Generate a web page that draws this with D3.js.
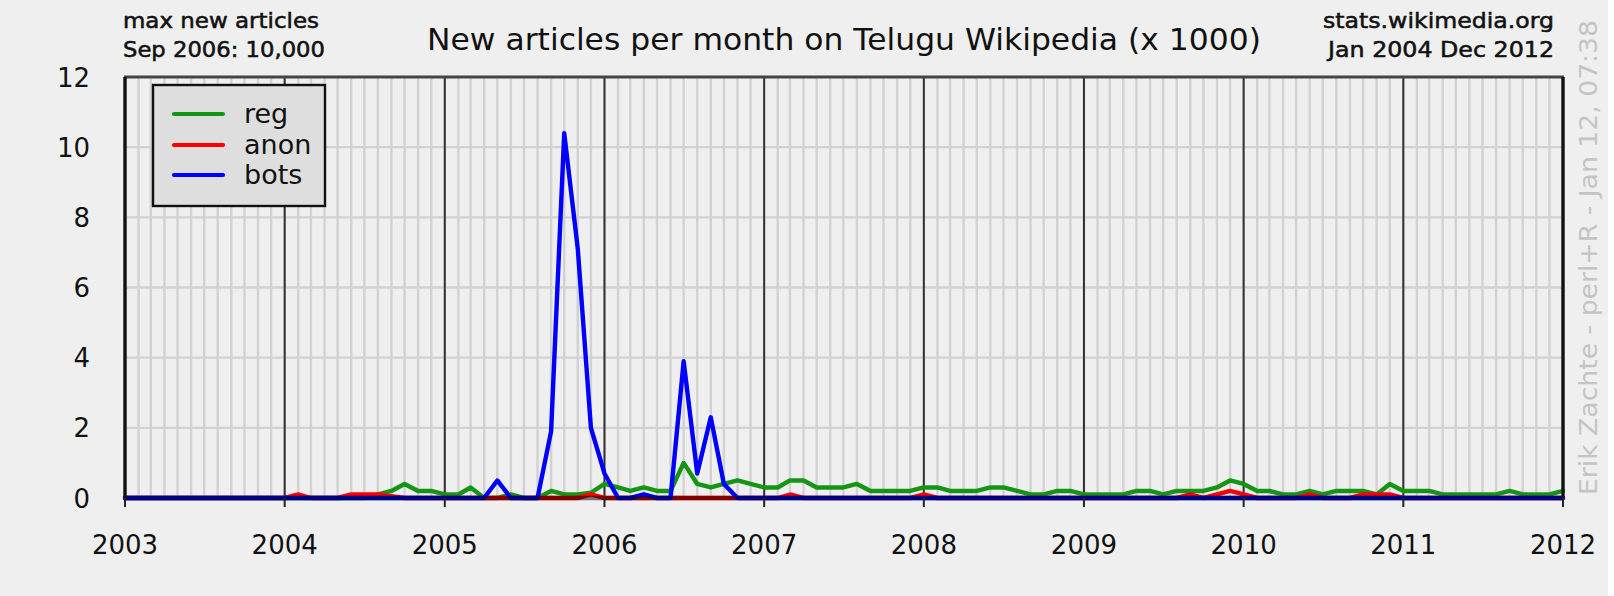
<!DOCTYPE html>
<html><head><meta charset="utf-8">
<script src="https://cdn.jsdelivr.net/npm/d3@7/dist/d3.min.js"></script>
<style>html,body{margin:0;padding:0;background:#fff;}svg{display:block;font-family:"DejaVu Sans",sans-serif;}</style>
</head><body><svg id="c" width="1614" height="596"></svg>
<script>
// ---- data (thousands of new articles per month, Jan 2003 .. Jan 2012) ----
const yearTicks = [2003, 2004, 2005, 2006, 2007, 2008, 2009, 2010, 2011, 2012];
const yTicks = [0, 2, 4, 6, 8, 10, 12];
const seriesNames = ["reg", "anon", "bots"];
const seriesColors = ["#149614", "#ff0000", "#0000ff"];
const reg = [
  0,0,0,0,0,0,0,0,0,0,0,0,                          // 2003
  0,0,0,0,0,0,0,0.1,0.2,0.4,0.2,0.2,                // 2004
  0.1,0.1,0.3,0,0,0.1,0,0,0.2,0.1,0.1,0.15,         // 2005
  0.4,0.3,0.2,0.3,0.2,0.2,1.0,0.4,0.3,0.4,0.5,0.4,  // 2006
  0.3,0.3,0.5,0.5,0.3,0.3,0.3,0.4,0.2,0.2,0.2,0.2,  // 2007
  0.3,0.3,0.2,0.2,0.2,0.3,0.3,0.2,0.1,0.1,0.2,0.2,  // 2008
  0.1,0.1,0.1,0.1,0.2,0.2,0.1,0.2,0.2,0.2,0.3,0.5,  // 2009
  0.4,0.2,0.2,0.1,0.1,0.2,0.1,0.2,0.2,0.2,0.1,0.4,  // 2010
  0.2,0.2,0.2,0.1,0.1,0.1,0.1,0.1,0.2,0.1,0.1,0.1,  // 2011
  0.2                                               // 2012
];
const anon = [
  0,0,0,0,0,0,0,0,0,0,0,0,
  0,0.1,0,0,0,0.1,0.1,0.1,0.05,0,0,0,
  0,0,0,0,0,0,0,0,0,0,0,0.1,
  0,0,0,0,0,0,0,0,0,0,0,0,
  0,0,0.1,0,0,0,0,0,0,0,0,0,
  0.1,0,0,0,0,0,0,0,0,0,0,0,
  0,0,0,0,0,0,0,0,0.1,0,0.1,0.2,
  0.1,0,0,0,0,0.1,0,0,0,0.1,0.1,0.1,
  0,0,0,0,0,0,0,0,0,0,0,0,
  0
];
const bots = [
  0,0,0,0,0,0,0,0,0,0,0,0,
  0,0,0,0,0,0,0,0,0,0,0,0,
  0,0,0,0,0.5,0,0,0,1.9,10.4,7.1,2.0,
  0.7,0,0,0.1,0,0,3.9,0.7,2.3,0.4,0,0,
  0,0,0,0,0,0,0,0,0,0,0,0,
  0,0,0,0,0,0,0,0,0,0,0,0,
  0,0,0,0,0,0,0,0,0,0,0,0,
  0,0,0,0,0,0,0,0,0,0,0,0,
  0,0,0,0,0,0,0,0,0,0,0,0,
  0
];
const seriesValues = [reg, anon, bots];
const titleText = "New articles per month on Telugu Wikipedia (x 1000)";
const topLeftLines = ["max new articles", "Sep 2006: 10,000"];
const topRightLines = ["stats.wikimedia.org", "Jan 2004 Dec 2012"];
const creditText = "Erik Zachte - perl+R - Jan 12, 07:38";

// ---- drawing ----
const svg = d3.select("#c");
const L = 125, R = 1563, T = 77, B = 498;
const months = d3.range(reg.length).map(i => new Date(2003, i, 1));
const x = d3.scaleTime().domain([new Date(2003,0,1), new Date(2012,0,1)]).range([L, R]);
const y = d3.scaleLinear().domain([0, 12]).range([B, T]);

svg.append("rect").attr("x",0).attr("y",0).attr("width",1608).attr("height",596).attr("fill","#efefef");

// monthly grid
const g = svg.append("g");
g.selectAll("line.m").data(d3.timeMonth.range(new Date(2003,0,1), new Date(2012,0,2)))
  .join("line").attr("x1", d=>x(d)).attr("x2", d=>x(d)).attr("y1", T).attr("y2", B)
  .attr("stroke", "#d2d2d2").attr("stroke-width", 2.4);
g.selectAll("line.h").data(yTicks.filter(v=>v>0 && v<12))
  .join("line").attr("x1", L).attr("x2", R).attr("y1", d=>y(d)).attr("y2", d=>y(d))
  .attr("stroke", "#d2d2d2").attr("stroke-width", 2.4);
// year lines
svg.append("g").selectAll("line").data(yearTicks.slice(1, -1))
  .join("line").attr("x1", d=>x(new Date(d,0,1))).attr("x2", d=>x(new Date(d,0,1)))
  .attr("y1", T).attr("y2", B).attr("stroke", "#333").attr("stroke-width", 2);

// series
const line = d3.line().x((d,i)=>x(months[i])).y(d=>y(d)).curve(d3.curveLinear);
seriesValues.forEach((vals, k) => {
  svg.append("path").datum(vals).attr("d", line).attr("fill","none")
    .attr("stroke", seriesColors[k]).attr("stroke-width", 4.4)
    .attr("stroke-linejoin","round").attr("stroke-linecap","round");
});
// zero axis line (semi-transparent)
svg.append("line").attr("x1", L).attr("x2", R).attr("y1", y(0)).attr("y2", y(0))
  .attr("stroke", "#000").attr("stroke-opacity", 0.5).attr("stroke-width", 4.4);

// frame
svg.append("line").attr("x1", L-1).attr("x2", R+1).attr("y1", T).attr("y2", T).attr("stroke","#444").attr("stroke-width",2.8);
svg.append("line").attr("x1", L).attr("x2", L).attr("y1", T).attr("y2", B).attr("stroke","#111").attr("stroke-width",3.4);
svg.append("line").attr("x1", R).attr("x2", R).attr("y1", T).attr("y2", B).attr("stroke","#111").attr("stroke-width",3.4);

// x axis ticks + labels
const xa = svg.append("g");
xa.selectAll("line").data(yearTicks).join("line")
  .attr("x1", d=>x(new Date(d,0,1))).attr("x2", d=>x(new Date(d,0,1)))
  .attr("y1", B).attr("y2", B+9).attr("stroke","#222").attr("stroke-width",2);
xa.selectAll("text").data(yearTicks).join("text")
  .attr("x", d=>x(new Date(d,0,1))).attr("y", 554).attr("text-anchor","middle")
  .attr("font-size", 26).attr("fill","#111").text(d=>d);
// y axis labels
svg.append("g").selectAll("text").data(yTicks).join("text")
  .attr("x", 90).attr("y", d=>y(d)+9.5).attr("text-anchor","end")
  .attr("font-size", 26).attr("fill","#111").text(d=>d);

// title
svg.append("text").attr("x", 427).attr("y", 50).attr("font-size", 31).attr("fill","#111")
  .attr("textLength", 834).attr("lengthAdjust","spacingAndGlyphs").text(titleText);
// top-left / top-right (medium weight via thin stroke)
function corner(xp, yp, len, txt) {
  svg.append("text").attr("x",xp).attr("y",yp).attr("font-size",22).attr("fill","#111")
    .attr("stroke","#111").attr("stroke-width",0.55)
    .attr("textLength",len).attr("lengthAdjust","spacingAndGlyphs").text(txt);
}
corner(123, 28, 196, topLeftLines[0]);
corner(123, 57, 202, topLeftLines[1]);
corner(1323, 28, 231, topRightLines[0]);
corner(1328, 57, 226, topRightLines[1]);
// credit (vertical)
svg.append("text").attr("transform","translate(1597,495) rotate(-90)").attr("font-size",25)
  .attr("fill","#c4c4c4").attr("textLength",475).attr("lengthAdjust","spacingAndGlyphs").text(creditText);

// legend
const lg = svg.append("g");
lg.append("rect").attr("x",153).attr("y",85).attr("width",172).attr("height",121)
  .attr("fill","#dedede").attr("stroke","#111").attr("stroke-width",2.4);
const legY = [114, 145, 175];
seriesNames.forEach((n,i) => {
  lg.append("line").attr("x1",174).attr("x2",223).attr("y1",legY[i]).attr("y2",legY[i])
    .attr("stroke",seriesColors[i]).attr("stroke-width",4.2).attr("stroke-linecap","round");
  lg.append("text").attr("x",244).attr("y",legY[i]+9).attr("font-size",27).attr("fill","#111").text(n);
});
</script></body></html>
